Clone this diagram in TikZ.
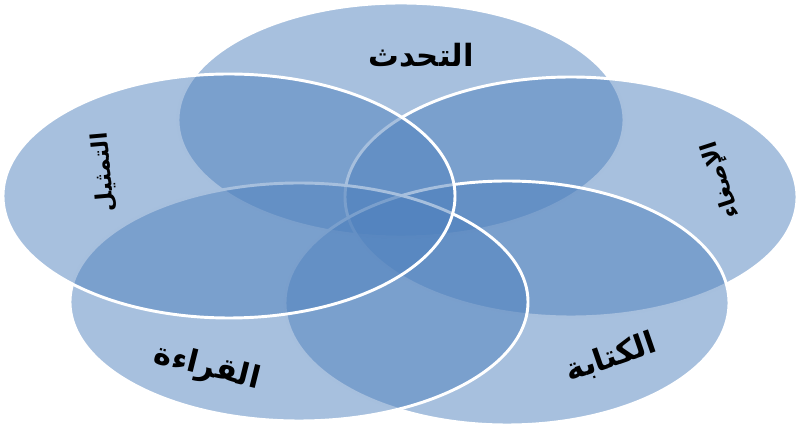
\documentclass[tikz,border=0pt]{standalone}
\usepackage{fontspec}
\newfontfamily\arabicfont[Script=Arabic]{DejaVu Sans}
\TeXXeTstate=1
\definecolor{vennblue}{RGB}{79,129,189}

\begin{document}
\begin{tikzpicture}[x=0.75pt, y=0.75pt,
    venn/.style={fill=vennblue, fill opacity=0.5, draw=white, draw opacity=1, line width=2.2pt},
    lbl/.style={font=\arabicfont\bfseries\fontsize{23}{27}\selectfont, text=black, inner sep=1pt},
    sidelbl/.style={lbl, font=\arabicfont\bfseries\fontsize{17}{20}\selectfont}]

  \useasboundingbox (0,0) rectangle (797,-427);

  % petals, back to front
  \foreach \cx/\cy/\rx/\ry in {401/120/223/117, 571/197/226/120, 507/303/222/122,
                               299/302/229/119, 229/196/226/122}{
    \draw[venn] (\cx,-\cy) ellipse [x radius=\rx, y radius=\ry];
  }

  \node[lbl] (talk) at (421,-55) {\beginR التحدث\endR};
  \node[sidelbl, rotate=108] (listen) at (722,-180) {\beginR الإصغاء\endR};
  \node[lbl, rotate=19] (write) at (611,-358) {\beginR الكتابة\endR};
  \node[lbl, rotate=-14] (read) at (207,-368) {\beginR القراءة\endR};
  \node[sidelbl, rotate=95] (act) at (104,-172) {\beginR التمثيل\endR};
\end{tikzpicture}
\end{document}
